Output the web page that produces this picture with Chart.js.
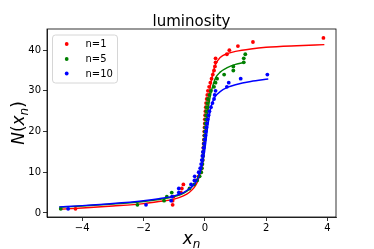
<!DOCTYPE html>
<html>
<head>
<meta charset="utf-8">
<script src="https://cdn.jsdelivr.net/npm/chart.js@4/dist/chart.umd.min.js"></script>
<style>
  html, body { margin: 0; padding: 0; background: #fff; }
  canvas { display: block; }
</style>
</head>
<body>
<canvas id="chart" width="374" height="249"></canvas>
<script>
'use strict';

// scatter data: x_n and N(x_n)
var redX = [-4.22, -1.05, -1.05, -1.02, -0.78, -0.75, -0.7, -0.3, -0.2, -0.12, -0.1, -0.08, -0.07, -0.06,
  -0.05, -0.05, -0.04, -0.03, -0.02, -0.02, -0.01, 0.0, 0.0, 0.01, 0.02, 0.03, 0.04, 0.06, 0.08, 0.1,
  0.14, 0.18, 0.22, 0.26, 0.3, 0.33, 0.35, 0.35, 0.72, 0.8, 1.08, 1.57, 3.87];
var redN = [1, 2, 3, 4, 5, 6, 7, 8, 9, 10, 11, 12, 13, 14, 15, 16, 17, 18, 19, 20, 21, 22, 23, 24, 25,
  26, 27, 28, 29, 30, 31, 32, 33, 34, 35, 36, 37, 38, 39, 40, 41, 42, 43];

var greenX = [-4.7, -2.2, -1.33, -1.24, -1.08, -0.5, -0.35, -0.25, -0.17, -0.12, -0.1, -0.08, -0.07,
  -0.06, -0.05, -0.04, -0.03, -0.02, -0.01, 0.0, 0.01, 0.02, 0.03, 0.04, 0.05, 0.06, 0.08, 0.1, 0.15,
  0.2, 0.3, 0.35, 0.4, 0.63, 0.93, 0.93, 1.27, 1.27, 1.32];
var greenN = [1, 2, 3, 4, 5, 6, 7, 8, 9, 10, 11, 12, 13, 14, 15, 16, 17, 18, 19, 20, 21, 22, 23, 24, 25,
  26, 27, 28, 29, 30, 31, 32, 33, 34, 35, 36, 37, 38, 39];

var blueX = [-4.46, -1.92, -1.1, -1.07, -0.85, -0.85, -0.45, -0.34, -0.33, -0.2, -0.15, -0.12, -0.1,
  -0.08, -0.06, -0.04, -0.02, 0.0, 0.02, 0.03, 0.05, 0.07, 0.09, 0.12, 0.15, 0.2, 0.25, 0.3, 0.32,
  0.35, 0.72, 0.78, 1.17, 2.04];
var blueN = [1, 2, 3, 4, 5, 6, 7, 8, 9, 10, 11, 12, 13, 14, 15, 16, 17, 18, 19, 20, 21, 22, 23, 24, 25,
  26, 27, 28, 29, 30, 31, 32, 33, 34];

// fitted curves
var redFitX = [-4.75, -4, -3, -2, -1.5, -1, -0.7, -0.5, -0.35, -0.25, -0.15, -0.08, 0, 0.05, 0.1, 0.15,
  0.2, 0.27, 0.35, 0.5, 0.75, 1, 1.5, 2, 3, 3.9];
var redFitY = [0.9, 1.2, 1.7, 2.3, 2.8, 3.4, 4.2, 5.1, 6.2, 7.5, 9.8, 12.5, 18, 22.5, 26.5, 29.5,
  32, 34.5, 36.5, 38.2, 39.2, 39.7, 40.3, 40.7, 41.1, 41.35];

var greenFitX = [-4.75, -4, -3, -2, -1.5, -1, -0.7, -0.5, -0.35, -0.25, -0.15, -0.08, 0, 0.05, 0.1, 0.15,
  0.2, 0.27, 0.35, 0.5, 0.75, 1, 1.3];
var greenFitY = [1.4, 1.7, 2.2, 2.8, 3.3, 4.0, 4.8, 5.8, 7.0, 8.3, 10.5, 13, 17.5, 21.5, 25, 27.5,
  29.5, 31.5, 33.2, 34.6, 35.8, 36.5, 37.0];

var blueFitX = [-4.75, -4, -3, -2, -1.5, -1, -0.7, -0.5, -0.35, -0.25, -0.15, -0.08, 0, 0.05, 0.1, 0.15,
  0.2, 0.27, 0.35, 0.5, 0.75, 1, 1.5, 2.07];
var blueFitY = [1.5, 1.8, 2.3, 3.0, 3.5, 4.2, 5.0, 6.0, 7.0, 8.1, 10, 12, 15.5, 18.5, 21.5, 24,
  26, 27.6, 28.7, 29.8, 30.9, 31.5, 32.3, 32.9];

var chartTitle = 'luminosity';
var seriesNames = ['n=1', 'n=5', 'n=10'];
var seriesColors = ['#ff0000', '#008000', '#0000ff'];
var xTicks = [-4, -2, 0, 2, 4];
var yTicks = [0, 10, 20, 30, 40];

var FONT = 'DejaVu Sans';

function zip(xs, ys) {
  return xs.map(function (x, i) { return { x: x, y: ys[i] }; });
}

function points(xs, ys, color, order) {
  return {
    data: zip(xs, ys),
    showLine: false,
    pointRadius: 1.9,
    pointHoverRadius: 1.9,
    pointBorderWidth: 0,
    pointBackgroundColor: color,
    borderColor: color,
    order: order
  };
}

function fit(xs, ys, color, order) {
  return {
    data: zip(xs, ys),
    showLine: true,
    pointRadius: 0,
    borderWidth: 1.4,
    borderColor: color,
    backgroundColor: color,
    cubicInterpolationMode: 'monotone',
    fill: false,
    order: order
  };
}

function minus(v) {
  return String(v).replace('-', '\u2212');
}

// frame, title, legend and axis labels (mathtext-like subscripts)
var extras = {
  id: 'extras',
  afterDraw: function (chart) {
    var ctx = chart.ctx;
    var a = chart.chartArea;
    var cx = (a.left + a.right) / 2;
    ctx.save();
    ctx.strokeStyle = '#000';
    ctx.lineWidth = 0.8;
    ctx.strokeRect(a.left, a.top, a.right - a.left, a.bottom - a.top);

    // title, centred over the axes
    ctx.fillStyle = '#000';
    ctx.font = '15px "' + FONT + '"';
    ctx.textAlign = 'center';
    ctx.textBaseline = 'alphabetic';
    ctx.fillText(chartTitle, cx, 25.5);

    // legend
    var bx = 52.5, by = 35, bw = 65, bh = 48;
    ctx.beginPath();
    ctx.roundRect(bx, by, bw, bh, 3);
    ctx.fillStyle = 'rgba(255,255,255,0.8)';
    ctx.fill();
    ctx.strokeStyle = '#cccccc';
    ctx.lineWidth = 0.8;
    ctx.stroke();
    ctx.font = '10px "' + FONT + '"';
    ctx.textBaseline = 'middle';
    ctx.textAlign = 'left';
    var rows = [44, 59, 73.5];
    for (var i = 0; i < seriesNames.length; i++) {
      ctx.fillStyle = seriesColors[i];
      ctx.beginPath();
      ctx.arc(66.7, rows[i], 1.9, 0, Math.PI * 2);
      ctx.fill();
      ctx.fillStyle = '#000';
      ctx.fillText(seriesNames[i], 85.5, rows[i] + 0.5);
    }

    // x label: x_n
    ctx.fillStyle = '#000';
    ctx.textBaseline = 'alphabetic';
    ctx.font = 'italic 17px "' + FONT + '"';
    var wx = ctx.measureText('x').width;
    ctx.font = 'italic 12px "' + FONT + '"';
    var wn = ctx.measureText('n').width;
    var sx = cx - (wx + wn) / 2;
    ctx.font = 'italic 17px "' + FONT + '"';
    ctx.fillText('x', sx, 244);
    ctx.font = 'italic 12px "' + FONT + '"';
    ctx.fillText('n', sx + wx, 247.5);

    // y label: N(x_n)
    ctx.translate(24, (a.top + a.bottom) / 2);
    ctx.rotate(-Math.PI / 2);
    var parts = [
      ['N', 'italic 17px', 0], ['(', '17px', 0], ['x', 'italic 17px', 0],
      ['n', 'italic 12px', 3.5], [')', '17px', 0]
    ];
    var total = 0;
    parts.forEach(function (p) {
      ctx.font = p[1] + ' "' + FONT + '"';
      p.push(ctx.measureText(p[0]).width);
      total += p[3];
    });
    var px = -total / 2;
    parts.forEach(function (p) {
      ctx.font = p[1] + ' "' + FONT + '"';
      ctx.fillText(p[0], px, p[2]);
      px += p[3];
    });
    ctx.restore();
  }
};

var ctx = document.getElementById('chart');

new Chart(ctx, {
  type: 'scatter',
  data: {
    datasets: [
      points(redX, redN, seriesColors[0], 5),
      fit(redFitX, redFitY, seriesColors[0], 4),
      points(greenX, greenN, seriesColors[1], 3),
      fit(greenFitX, greenFitY, seriesColors[1], 2),
      points(blueX, blueN, seriesColors[2], 1),
      fit(blueFitX, blueFitY, seriesColors[2], 0)
    ]
  },
  options: {
    responsive: false,
    animation: false,
    devicePixelRatio: 1,
    layout: { padding: { left: 0, right: 38, top: 29, bottom: 0 } },
    plugins: {
      legend: { display: false },
      tooltip: { enabled: false },
      title: { display: false }
    },
    scales: {
      x: {
        type: 'linear',
        min: -5.15,
        max: 4.28,
        afterBuildTicks: function (axis) {
          axis.ticks = xTicks.map(function (v) { return { value: v }; });
        },
        afterFit: function (axis) { axis.height = 32; },
        grid: { drawOnChartArea: false, color: '#000', lineWidth: 0.8, tickLength: 4 },
        border: { color: '#000', width: 0.8 },
        ticks: {
          color: '#000',
          padding: 1,
          maxRotation: 0,
          font: { family: FONT, size: 10 },
          callback: minus
        }
      },
      y: {
        type: 'linear',
        min: -1.0,
        max: 45.2,
        afterBuildTicks: function (axis) {
          axis.ticks = yTicks.map(function (v) { return { value: v }; });
        },
        afterFit: function (axis) { axis.width = 47; },
        grid: { drawOnChartArea: false, color: '#000', lineWidth: 0.8, tickLength: 4 },
        border: { color: '#000', width: 0.8 },
        ticks: {
          color: '#000',
          padding: 2,
          font: { family: FONT, size: 10 },
          callback: minus
        }
      }
    }
  },
  plugins: [extras]
});
</script>
</body>
</html>
